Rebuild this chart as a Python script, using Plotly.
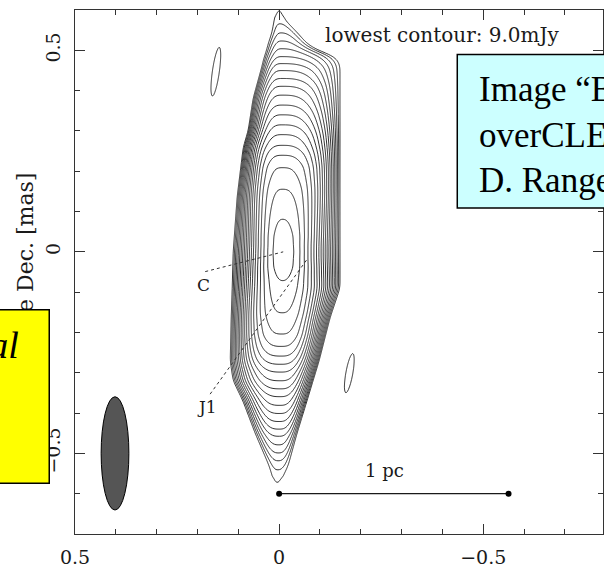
import numpy as np
import plotly.graph_objects as go

# ---------------- data ----------------
lowest_contour = 9.0          # mJy/beam
contour_step = np.sqrt(2.0)   # factor between successive contours
n_contours = 24

# contour level crossings along the ridge (Dec in mas -> contour index)
col_dec = [-0.733, -0.572, -0.540, -0.518, -0.499, -0.479, -0.457, -0.440, -0.421, -0.401,
           -0.381, -0.359, -0.340, -0.320, -0.298, -0.279, -0.259, -0.235, -0.205, -0.152,
           -0.071, -0.036, 0.000, 0.038, 0.081, 0.156, 0.210, 0.240, 0.264, 0.291, 0.315, 0.340,
           0.364, 0.389, 0.411, 0.430, 0.450, 0.467, 0.484, 0.504, 0.523, 0.543,
           0.565, 0.597, 0.733]
col_level = [-6, 0, 1, 2, 3, 4, 5, 6, 7, 8,
             9, 10, 11, 12, 13, 14, 15, 16, 17, 18,
             19, 19.52, 19.7, 19.52, 19, 18, 17, 16, 15, 14, 13, 12,
             11, 10, 9, 8, 7, 6, 5, 4, 3, 2,
             1, 0, -6]

# lowest-contour outline: Dec (mas), east edge RA, west edge RA, ridge RA
w_dec   = [-0.733, -0.572, -0.531, -0.450, -0.369, -0.320, -0.271, -0.164, -0.090, 0.000,
           0.137, 0.259, 0.301, 0.381, 0.462, 0.474, 0.491, 0.496, 0.516, 0.545,
           0.577, 0.597, 0.733]
w_east  = [0.0196, 0.0122, 0.0244, 0.0587, 0.0890, 0.1125, 0.1198, 0.1174, 0.1149, 0.1125,
           0.1027, 0.0880, 0.0758, 0.0636, 0.0416, 0.0391, 0.0342, 0.0318, 0.0269, 0.0171,
           0.0122, 0.0073, 0.0147]
w_west  = [-0.0098, -0.0024, -0.0220, -0.0440, -0.0685, -0.0831, -0.0978, -0.1247, -0.1491, -0.1491,
           -0.1491, -0.1491, -0.1491, -0.1491, -0.1491, -0.1443, -0.1296, -0.1002, -0.0685, -0.0440,
           -0.0122, -0.0073, -0.0098]
w_ridge = [0.0049, 0.0049, 0.0024, 0.0000, -0.0024, -0.0037, -0.0049, -0.0073, -0.0086, -0.0086,
           -0.0086, -0.0073, -0.0073, -0.0073, -0.0061, -0.0061, -0.0061, -0.0061, -0.0061, -0.0049,
           0.0000, 0.0000, 0.0000]

# flatness of the cross-ridge profile (2 = gaussian core, larger = flat-topped plateau)
shape_dec = [-0.733, -0.526, -0.440, -0.269, -0.147, -0.061, 0.000, 0.061, 0.147, 0.269, 0.440, 0.526, 0.733]
shape_pow = [2.5, 2.5, 3.0, 3.0, 2.6, 2.2, 2.0, 2.2, 2.6, 3.0, 3.0, 2.5, 2.5]

# small isolated lowest-level islands: RA, Dec, peak (mJy), sigma RA, sigma Dec (mas), PA (deg)
isl_ra   = [0.155, -0.172]
isl_dec  = [0.447, -0.301]
isl_peak = [11.3, 11.3]
isl_sx   = [0.0127, 0.0127]
isl_sy   = [0.0905, 0.0730]
isl_pa   = [-8.0, -10.0]

beam_ra, beam_dec = 0.402, -0.500      # restoring beam centre (mas)
beam_major, beam_minor = 0.281, 0.068  # FWHM (mas)

scale_ra = [0.0, -0.562]               # 1 pc bar
scale_dec = [-0.600, -0.600]

labels = ["C", "J1"]
label_ra = [0.186, 0.176]
label_dec = [-0.083, -0.385]
leader_from_ra = [0.181, 0.169]
leader_from_dec = [-0.049, -0.353]
leader_to_ra = [-0.010, -0.071]
leader_to_dec = [0.000, -0.015]

x_range = [0.5, -0.7934]
y_range = [-0.7, 0.6]

# ---------------- build the map ----------------
ln_step = np.log(contour_step)
ra = np.linspace(0.5, -0.8, 521)
dec = np.linspace(-0.7, 0.6, 521)


def smooth(a, width=2.5):
    n = int(3 * width)
    kern = np.exp(-0.5 * (np.arange(-n, n + 1) / width) ** 2)
    kern /= kern.sum()
    pad = np.concatenate([np.full(n, a[0]), a, np.full(n, a[-1])])
    return np.convolve(pad, kern, mode="valid")


k_y = smooth(np.interp(dec, col_dec, col_level), 2.0)
r_y = smooth(np.interp(dec, w_dec, w_ridge), 5.0)
he_y = smooth(np.interp(dec, w_dec, np.array(w_east) - np.array(w_ridge)), 3.5)
hw_y = smooth(np.interp(dec, w_dec, np.array(w_ridge) - np.array(w_west)), 3.5)
p_y = smooth(np.interp(dec, shape_dec, shape_pow), 8.0)

RA, DEC = np.meshgrid(ra, dec)
d = RA - r_y[:, None]
h = np.where(d > 0, he_y[:, None], hw_y[:, None])
Zmain = k_y[:, None] - np.maximum(k_y[:, None], 0.5) * (np.abs(d) / h) ** p_y[:, None]
Zmain = np.maximum(Zmain, -60)
I = lowest_contour * np.exp(Zmain * ln_step)
for r0, d0, a, sx, sy, pa in zip(isl_ra, isl_dec, isl_peak, isl_sx, isl_sy, isl_pa):
    t = np.deg2rad(pa)
    u = RA - r0
    v = DEC - d0
    along = v * np.cos(t) + u * np.sin(t)
    cross = u * np.cos(t) - v * np.sin(t)
    I += a * np.exp(-(cross ** 2) / (2 * sx ** 2) - (along ** 2) / (2 * sy ** 2))
I = np.maximum(I, 1e-4)
Z = np.round(np.log(I / lowest_contour) / ln_step, 3)

SERIF = "DejaVu Serif"
ink = "#1a1a1a"

fig = go.Figure()
fig.add_trace(go.Contour(
    x=ra, y=dec, z=Z,
    contours=dict(start=0, end=n_contours, size=1, coloring="none"),
    line=dict(color=ink, width=0.9, smoothing=1),
    showscale=False, hoverinfo="skip"))

for fr, fd, tr, td in zip(leader_from_ra, leader_from_dec, leader_to_ra, leader_to_dec):
    fig.add_trace(go.Scatter(x=[fr, tr], y=[fd, td], mode="lines",
                             line=dict(color="#333", width=1, dash="dot"),
                             hoverinfo="skip", showlegend=False))

fig.add_trace(go.Scatter(x=scale_ra, y=scale_dec, mode="lines+markers",
                         line=dict(color=ink, width=1.2),
                         marker=dict(color="black", size=6),
                         hoverinfo="skip", showlegend=False))

shapes = [
    dict(type="circle", xref="x", yref="y",
         x0=beam_ra + beam_minor / 2, x1=beam_ra - beam_minor / 2,
         y0=beam_dec - beam_major / 2, y1=beam_dec + beam_major / 2,
         fillcolor="#555555", line=dict(color="black", width=1), layer="above"),
    dict(type="rect", xref="paper", yref="paper", x0=0.724, x1=1.3, y0=0.622, y1=0.915,
         fillcolor="#ccffff", line=dict(color="black", width=1.5), layer="above"),
]

annotations = [
    dict(text="Relative Dec. [mas]", xref="paper", yref="paper", x=-0.0926, y=0.481,
         textangle=-90, showarrow=False, xanchor="center", yanchor="middle",
         font=dict(family=SERIF, size=22, color=ink)),
    dict(text=" ", xref="paper", yref="paper", x=-0.0473, y=0.262,
         xanchor="right", yanchor="middle", showarrow=False,
         width=400, height=168, bgcolor="#ffff00", bordercolor="black",
         borderwidth=1.5, borderpad=2),
    dict(text="<i>Original</i>", xref="paper", yref="paper", x=-0.102, y=0.361,
         xanchor="right", yanchor="middle", showarrow=False,
         font=dict(family="Liberation Serif", size=38, color="black")),
    dict(text="Image \u201cB\u201d<br>overCLEANed,<br>D. Range 600:1", xref="paper", yref="paper",
         x=0.762, y=0.762, xanchor="left", yanchor="middle", align="left", showarrow=False,
         font=dict(family="Liberation Serif", size=35, color="black")),
    dict(text="lowest contour: 9.0mJy", xref="x", yref="y", x=-0.399, y=0.537,
         showarrow=False, xanchor="center", yanchor="middle",
         font=dict(family=SERIF, size=20, color=ink)),
    dict(text="1 pc", xref="x", yref="y", x=-0.259, y=-0.542,
         showarrow=False, xanchor="center", yanchor="middle",
         font=dict(family=SERIF, size=18, color=ink)),
]
for t, lr, ld in zip(labels, label_ra, label_dec):
    annotations.append(dict(text=t, xref="x", yref="y", x=lr, y=ld, showarrow=False,
                            xanchor="center", yanchor="middle",
                            font=dict(family=SERIF, size=17, color=ink)))

axis_common = dict(showline=True, linecolor="#333", linewidth=1, mirror="ticks",
                   ticks="inside", ticklen=10, tickwidth=1, tickcolor="#333",
                   dtick=0.5, tick0=0, showgrid=False, zeroline=False,
                   minor=dict(ticks="inside", ticklen=5, dtick=0.1, tick0=0,
                              tickcolor="#333", showgrid=False),
                   tickfont=dict(family=SERIF, size=19, color=ink))

fig.update_layout(
    width=604, height=568,
    margin=dict(l=75, r=0, t=10, b=26),
    paper_bgcolor="white", plot_bgcolor="white",
    showlegend=False,
    xaxis=dict(range=x_range, ticklabelstandoff=6, **axis_common),
    yaxis=dict(range=y_range, tickangle=-90, ticklabelstandoff=6, **axis_common),
    shapes=shapes, annotations=annotations,
)

fig.write_html("out.html", config={"displayModeBar": False},
               post_script="document.body.style.margin='0';document.body.style.overflow='hidden';")
